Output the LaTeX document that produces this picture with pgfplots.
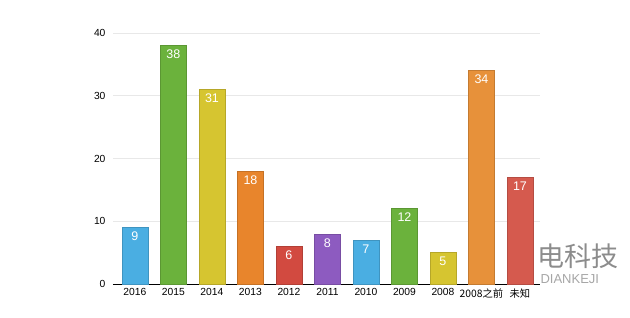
\documentclass[border=0pt]{standalone}
\usepackage{pgfplots}
\pgfplotsset{compat=1.18}
\usepackage{fontspec}
\setmainfont{Liberation Sans}
\newfontfamily\cjk{Noto Sans CJK SC}
\definecolor{cblue}{HTML}{4AAEE2}
\definecolor{cgreen}{HTML}{6BB23C}
\definecolor{cyellow}{HTML}{D6C530}
\definecolor{corange}{HTML}{E8852C}
\definecolor{corange2}{HTML}{E7913A}
\definecolor{cred}{HTML}{D24A40}
\definecolor{cred2}{HTML}{D55A4E}
\definecolor{cpurple}{HTML}{8D5BC0}
\definecolor{gridc}{HTML}{E8E8E8}
\begin{document}
\begin{tikzpicture}
\begin{axis}[
  scale only axis, width=427pt, height=251pt,
  xmin=-0.57, xmax=10.52, ymin=0, ymax=40,
  ybar, bar width=0.68, bar shift=0pt,
  xtick={0,1,2,3,4,5,6,7,8,9,10},
  xticklabels={2016,2015,2014,2013,2012,2011,2010,2009,2008,{\cjk 2008之前},{\cjk 未知}},
  ytick={0,10,20,30,40},
  ymajorgrids, xmajorgrids=false,
  major grid style={draw=gridc, line width=0.7pt},
  axis x line*=bottom, axis y line*=left,
  x axis line style={black, line width=0.8pt, -},
  y axis line style={draw=none},
  major tick length=0pt,
  tick label style={font=\fontsize{10.3}{12}\selectfont, text=black},
  xticklabel style={yshift=-1pt},
  yticklabel style={xshift=-4pt},
  /pgf/number format/assume math mode=true,
  nodes near coords,
  every node near coord/.append style={anchor=north, yshift=-1pt, text=white, font=\fontsize{12.5}{14}\selectfont},
  clip=false,
]
\addplot[fill=cblue, draw=cblue!85!black] coordinates {(0,9)};
\addplot[fill=cgreen, draw=cgreen!85!black] coordinates {(1,38)};
\addplot[fill=cyellow, draw=cyellow!85!black] coordinates {(2,31)};
\addplot[fill=corange, draw=corange!85!black] coordinates {(3,18)};
\addplot[fill=cred, draw=cred!85!black] coordinates {(4,6)};
\addplot[fill=cpurple, draw=cpurple!85!black] coordinates {(5,8)};
\addplot[fill=cblue, draw=cblue!85!black] coordinates {(6,7)};
\addplot[fill=cgreen, draw=cgreen!85!black] coordinates {(7,12)};
\addplot[fill=cyellow, draw=cyellow!85!black] coordinates {(8,5)};
\addplot[fill=corange2, draw=corange2!85!black] coordinates {(9,34)};
\addplot[fill=cred2, draw=cred2!85!black] coordinates {(10,17)};
\end{axis}
\path[use as bounding box] (-113pt,-34pt) rectangle (517pt,284pt);
\node[anchor=west, text=black!45, font=\cjk\fontsize{27}{30}\selectfont] at (421pt,28pt) {电科技};
\node[anchor=west, text=black!35, font=\fontsize{13}{15}\selectfont] at (424pt,5pt) {DIANKEJI};
\end{tikzpicture}
\end{document}
